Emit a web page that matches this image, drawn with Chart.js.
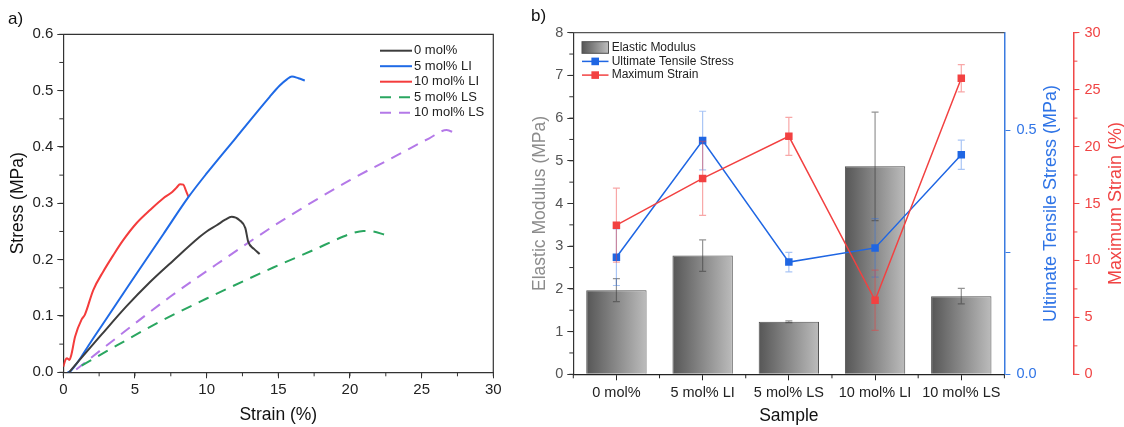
<!DOCTYPE html>
<html>
<head>
<meta charset="utf-8">
<script src="https://cdn.jsdelivr.net/npm/chart.js@4.4.1/dist/chart.umd.min.js"></script>
<style>
  html, body { margin: 0; padding: 0; background: #fff; }
  body { width: 1124px; height: 427px; position: relative; overflow: hidden; font-family: 'Liberation Sans', Arial, sans-serif; }
  #curveChart { position: absolute; left: 0; top: 0; }
  #summaryChart { position: absolute; left: 520px; top: 0; }
  .panel-tag { position: absolute; font-size: 17px; color: #111; line-height: 20px; }
</style>
</head>
<body>
<canvas id="curveChart" width="520" height="427"></canvas>
<canvas id="summaryChart" width="604" height="427"></canvas>
<div class="panel-tag" style="left:8px;top:9px">a)</div>
<div class="panel-tag" style="left:531px;top:6px">b)</div>
<script>
Chart.defaults.font.family = "'Liberation Sans', Arial, sans-serif";
Chart.defaults.color = '#222';
Chart.defaults.animation = false;

// ---- a) stress-strain curves ----
const strain0 = [0.4, 1.2, 2.6, 4.4, 6.0, 7.7, 9.5, 10.0, 10.7, 11.3, 11.75, 12.3, 12.7, 12.9, 13.3, 13.7];
const stress0 = [0.0, 0.024, 0.065, 0.117, 0.159, 0.199, 0.240, 0.250, 0.261, 0.271, 0.276, 0.270, 0.256, 0.232, 0.219, 0.210];

const strain1 = [0.3, 0.5, 2.0, 5.0, 7.0, 8.7, 10.0, 12.0, 14.4, 15.1, 15.6, 15.95, 16.4, 16.85];
const stress1 = [0.0, 0.002, 0.057, 0.171, 0.246, 0.310, 0.353, 0.415, 0.489, 0.509, 0.520, 0.525, 0.522, 0.518];

const strain2 = [0.0, 0.15, 0.25, 0.42, 0.55, 0.82, 1.28, 1.5, 2.09, 2.79, 3.49, 4.19, 5.12, 6.05, 6.98, 7.6, 7.91, 8.14, 8.37, 8.55, 8.72];
const stress2 = [0.010, 0.022, 0.025, 0.022, 0.030, 0.063, 0.094, 0.102, 0.146, 0.179, 0.208, 0.235, 0.265, 0.288, 0.309, 0.320, 0.328, 0.334, 0.333, 0.323, 0.312];

const strain3 = [1.28, 3.0, 6.75, 10.0, 14.65, 17.45, 19.54, 20.3, 20.93, 21.63, 22.45];
const stress3 = [0.012, 0.037, 0.090, 0.131, 0.186, 0.217, 0.241, 0.248, 0.251, 0.250, 0.244];

const strain4 = [0.9, 3.0, 7.45, 11.0, 15.12, 20.0, 23.5, 25.5, 26.75, 27.3];
const stress4 = [0.005, 0.047, 0.134, 0.197, 0.267, 0.341, 0.388, 0.415, 0.430, 0.425];

const curveNames = ['0 mol%', '5 mol% LI', '10 mol% LI', '5 mol% LS', '10 mol% LS'];
const curveColors = ['#3d3d3d', '#1f6ae6', '#f43c3c', '#2aa660', '#b479e8'];

// ---- b) summary per sample ----
const samples = ['0 mol%', '5 mol% LI', '5 mol% LS', '10 mol% LI', '10 mol% LS'];
const modulus = [1.97, 2.78, 1.23, 4.87, 1.83];
const modulusErr = [0.27, 0.37, 0.02, 1.27, 0.18];
const uts = [0.240, 0.479, 0.230, 0.259, 0.450];
const utsErr = [0.058, 0.060, 0.020, 0.060, 0.030];
const maxStrain = [13.1, 17.2, 20.9, 6.5, 26.0];
const maxStrainErr = [3.25, 3.25, 1.67, 2.65, 1.2];

const FONT = "'Liberation Sans', Arial, sans-serif";

function pairs(xs, ys) {
    return xs.map((x, i) => ({ x, y: ys[i] }));
}

// short ticks between the labelled ones
const minorTicks = {
    id: 'minorTicks',
    afterDraw(chart, args, opts) {
        const ctx = chart.ctx;
        (opts.axes || []).forEach(a => {
            const s = chart.scales[a.id];
            if (!s) return;
            const pixels = [];
            if (a.boundaries) {
                const half = (s.getPixelForValue(1) - s.getPixelForValue(0)) / 2;
                chart.data.labels.forEach((l, i) => pixels.push(s.getPixelForValue(i) - half));
                pixels.push(s.getPixelForValue(chart.data.labels.length - 1) + half);
            } else {
                for (let v = s.min; v <= s.max + 1e-9; v += a.step) pixels.push(s.getPixelForValue(v));
            }
            ctx.save();
            ctx.strokeStyle = a.color;
            ctx.lineWidth = 1;
            ctx.beginPath();
            pixels.forEach(p => {
                if (s.position === 'bottom') { ctx.moveTo(p, s.top); ctx.lineTo(p, s.top + a.length); }
                else if (s.position === 'left') { ctx.moveTo(s.right, p); ctx.lineTo(s.right - a.length, p); }
                else { ctx.moveTo(s.left, p); ctx.lineTo(s.left + a.length, p); }
            });
            ctx.stroke();
            ctx.restore();
        });
    }
};

// top / right edge of the plot box
const frame = {
    id: 'frame',
    afterDraw(chart, args, opts) {
        const { ctx, chartArea: a } = chart;
        ctx.save();
        ctx.strokeStyle = opts.color || '#333';
        ctx.lineWidth = 1.2;
        ctx.beginPath();
        ctx.moveTo(a.left, a.top);
        ctx.lineTo(a.right, a.top);
        if (opts.right) ctx.lineTo(a.right, a.bottom);
        ctx.stroke();
        ctx.restore();
    }
};

const curveLegend = {
    id: 'curveLegend',
    afterDraw(chart) {
        const ctx = chart.ctx;
        ctx.save();
        ctx.font = '13px ' + FONT;
        ctx.textBaseline = 'middle';
        chart.data.datasets.forEach((ds, i) => {
            const y = 50.7 + i * 15.5;
            ctx.strokeStyle = ds.borderColor;
            ctx.lineWidth = 2;
            ctx.setLineDash(ds.borderDash || []);
            ctx.beginPath();
            ctx.moveTo(380, y);
            ctx.lineTo(412, y);
            ctx.stroke();
            ctx.setLineDash([]);
            ctx.fillStyle = '#222';
            ctx.fillText(ds.label, 414, y);
        });
        ctx.restore();
    }
};

function drawErrors(chart, index) {
    const ds = chart.data.datasets[index];
    if (!ds.errors) return;
    const meta = chart.getDatasetMeta(index);
    const xs = chart.scales[meta.xAxisID];
    const ys = chart.scales[meta.yAxisID];
    const ctx = chart.ctx;
    ctx.save();
    ctx.strokeStyle = ds.errorColor;
    ctx.lineWidth = 1.2;
    ds.data.forEach((v, i) => {
        const x = xs.getPixelForValue(i);
        const top = ys.getPixelForValue(v + ds.errors[i]);
        const bot = ys.getPixelForValue(v - ds.errors[i]);
        ctx.beginPath();
        ctx.moveTo(x, top); ctx.lineTo(x, bot);
        ctx.moveTo(x - 3.5, top); ctx.lineTo(x + 3.5, top);
        ctx.moveTo(x - 3.5, bot); ctx.lineTo(x + 3.5, bot);
        ctx.stroke();
    });
    ctx.restore();
}

// bar errors sit on the bars, line errors go under their markers
const errorBars = {
    id: 'errorBars',
    beforeDatasetDraw(chart, args) { if (args.meta.type === 'line') drawErrors(chart, args.index); },
    afterDatasetDraw(chart, args) { if (args.meta.type === 'bar') drawErrors(chart, args.index); }
};

function barGradient(c) {
    const chart = c.chart;
    const xs = chart.scales && chart.scales.x;
    if (!chart.chartArea || !xs || c.dataIndex === undefined) return '#888';
    const half = (xs.width / samples.length) * 0.7 / 2;
    const cx = xs.getPixelForValue(c.dataIndex);
    const g = chart.ctx.createLinearGradient(cx - half, 0, cx + half, 0);
    g.addColorStop(0, '#565656');
    g.addColorStop(1, '#bcbcbc');
    return g;
}

const summaryLegend = {
    id: 'summaryLegend',
    afterDraw(chart) {
        const ctx = chart.ctx;
        ctx.save();
        ctx.font = '12px ' + FONT;
        ctx.textBaseline = 'middle';
        chart.data.datasets.forEach((ds, i) => {
            const y = 47.7 + i * 13.7;
            if (ds.type === 'bar') {
                const g = ctx.createLinearGradient(62, 0, 88, 0);
                g.addColorStop(0, '#565656');
                g.addColorStop(1, '#bcbcbc');
                ctx.fillStyle = g;
                ctx.fillRect(62, y - 6, 26.5, 11.6);
                ctx.strokeStyle = '#505050';
                ctx.lineWidth = 1;
                ctx.strokeRect(62, y - 6, 26.5, 11.6);
            } else {
                ctx.strokeStyle = ds.borderColor;
                ctx.lineWidth = 1.5;
                ctx.beginPath();
                ctx.moveTo(62, y); ctx.lineTo(88.5, y);
                ctx.stroke();
                ctx.fillStyle = ds.borderColor;
                ctx.fillRect(75.2 - 3.8, y - 3.8, 7.6, 7.6);
            }
            ctx.fillStyle = '#222';
            ctx.fillText(ds.label, 91.7, y);
        });
        ctx.restore();
    }
};

// right-hand axis titles read bottom to top
const sideTitles = {
    id: 'sideTitles',
    afterDraw(chart, args, opts) {
        const ctx = chart.ctx;
        const area = chart.chartArea;
        (opts.items || []).forEach(t => {
            const s = chart.scales[t.axis];
            ctx.save();
            ctx.translate(s.left + t.offset, (area.top + area.bottom) / 2);
            ctx.rotate(-Math.PI / 2);
            ctx.font = '18px ' + FONT;
            ctx.fillStyle = t.color;
            ctx.textAlign = 'center';
            ctx.textBaseline = 'middle';
            ctx.fillText(t.text, 0, 0);
            ctx.restore();
        });
    }
};

function axisGrid(color) {
    return { drawOnChartArea: false, drawTicks: true, tickLength: 6, tickColor: color, color: color };
}

// Panel a
const curveSets = [
    [strain0, stress0], [strain1, stress1], [strain2, stress2], [strain3, stress3], [strain4, stress4]
].map(([xs, ys], i) => ({
    label: curveNames[i],
    data: pairs(xs, ys),
    borderColor: curveColors[i],
    borderWidth: 2,
    borderDash: i >= 3 ? [11, 8] : [],
    pointRadius: 0,
    cubicInterpolationMode: 'monotone',
    fill: false
}));

new Chart(document.getElementById('curveChart'), {
    type: 'line',
    data: { datasets: curveSets },
    options: {
        responsive: false,
        animation: false,
        layout: { padding: { top: 34.3, right: 26.7, left: 0, bottom: 0 } },
        plugins: {
            legend: { display: false },
            tooltip: { enabled: false },
            frame: { right: true, color: '#333' },
            minorTicks: { axes: [
                { id: 'x', step: 2.5, length: 4, color: '#333' },
                { id: 'y', step: 0.05, length: 4, color: '#333' }
            ] }
        },
        scales: {
            x: {
                type: 'linear', min: 0, max: 30,
                ticks: { stepSize: 5, font: { size: 15 }, color: '#222', padding: 3 },
                grid: axisGrid('#333'),
                border: { display: true, color: '#333', width: 1.2 },
                title: { display: true, text: 'Strain (%)', color: '#111', font: { size: 17.5 }, padding: { top: 0, bottom: 1 } },
                afterFit: s => { s.height = 54.7; }
            },
            y: {
                min: 0, max: 0.6,
                ticks: { stepSize: 0.1, font: { size: 15 }, color: '#222', padding: 4, callback: v => v.toFixed(1) },
                grid: axisGrid('#333'),
                border: { display: true, color: '#333', width: 1.2 },
                title: { display: true, text: 'Stress (MPa)', color: '#111', font: { size: 17.5 }, padding: { top: 7.5, bottom: 0 } },
                afterFit: s => { s.width = 63.3; }
            }
        }
    },
    plugins: [minorTicks, frame, curveLegend]
});

// Panel b
new Chart(document.getElementById('summaryChart'), {
    type: 'bar',
    data: {
        labels: samples,
        datasets: [
            {
                type: 'bar', label: 'Elastic Modulus', data: modulus,
                errors: modulusErr, errorColor: 'rgba(60,60,60,0.55)',
                yAxisID: 'y', order: 3,
                barPercentage: 0.7, categoryPercentage: 1,
                backgroundColor: barGradient, borderColor: '#505050', borderWidth: 1
            },
            {
                type: 'line', label: 'Ultimate Tensile Stress', data: uts,
                errors: utsErr, errorColor: 'rgba(40,110,230,0.4)',
                yAxisID: 'y1', order: 2,
                borderColor: '#1f66e3', backgroundColor: '#1f66e3', borderWidth: 1.5,
                pointStyle: 'rect', pointRadius: 5.3, pointBorderWidth: 0, tension: 0
            },
            {
                type: 'line', label: 'Maximum Strain', data: maxStrain,
                errors: maxStrainErr, errorColor: 'rgba(240,60,60,0.45)',
                yAxisID: 'y2', order: 1,
                borderColor: '#f24141', backgroundColor: '#f24141', borderWidth: 1.5,
                pointStyle: 'rect', pointRadius: 5.3, pointBorderWidth: 0, tension: 0
            }
        ]
    },
    options: {
        responsive: false,
        animation: false,
        layout: { padding: { top: 32.7, right: 0, left: 0, bottom: 0 } },
        plugins: {
            legend: { display: false },
            tooltip: { enabled: false },
            frame: { right: false, color: '#555' },
            minorTicks: { axes: [
                { id: 'x', boundaries: true, length: 4, color: '#222' },
                { id: 'y', step: 0.5, length: 4, color: '#333' },
                { id: 'y2', step: 2.5, length: 4, color: '#f04848' }
            ] },
            sideTitles: { items: [
                { axis: 'y1', offset: 46.7, text: 'Ultimate Tensile Stress (MPa)', color: '#2f74e6' },
                { axis: 'y2', offset: 43, text: 'Maximum Strain (%)', color: '#f04444' }
            ] }
        },
        scales: {
            x: {
                offset: true,
                ticks: { font: { size: 14.5 }, color: '#222', padding: 4 },
                grid: Object.assign(axisGrid('#222'), { offset: false }),
                border: { display: true, color: '#222', width: 1.2 },
                title: { display: true, text: 'Sample', color: '#111', font: { size: 17.5 }, padding: { top: 0, bottom: 0 } },
                afterFit: s => { s.height = 52.7; }
            },
            y: {
                position: 'left', min: 0, max: 8,
                ticks: { stepSize: 1, font: { size: 14.5 }, color: '#555', padding: 4 },
                grid: axisGrid('#333'),
                border: { display: true, color: '#333', width: 1.2 },
                title: { display: true, text: 'Elastic Modulus (MPa)', color: '#8c8c8c', font: { size: 17.5 }, padding: { top: 9.2, bottom: 0 } },
                afterFit: s => { s.width = 53.3; }
            },
            y1: {
                position: 'right', min: 0, max: 0.7, weight: 0,
                afterBuildTicks: s => { s.ticks = [0, 0.25, 0.5].map(v => ({ value: v })); },
                ticks: { font: { size: 14.5 }, color: '#2f74e6', padding: 6, callback: v => (v === 0.25 ? '' : v.toFixed(1)) },
                grid: axisGrid('#3a7be0'),
                border: { display: true, color: '#3a7be0', width: 1.5 },
                afterFit: s => { s.width = 69; }
            },
            y2: {
                position: 'right', min: 0, max: 30, weight: 1,
                ticks: { stepSize: 5, font: { size: 14.5 }, color: '#f04444', padding: 5 },
                grid: axisGrid('#f04848'),
                border: { display: true, color: '#f04848', width: 1.5 },
                afterFit: s => { s.width = 50.6; }
            }
        }
    },
    plugins: [errorBars, minorTicks, frame, summaryLegend, sideTitles]
});
</script>
</body>
</html>
